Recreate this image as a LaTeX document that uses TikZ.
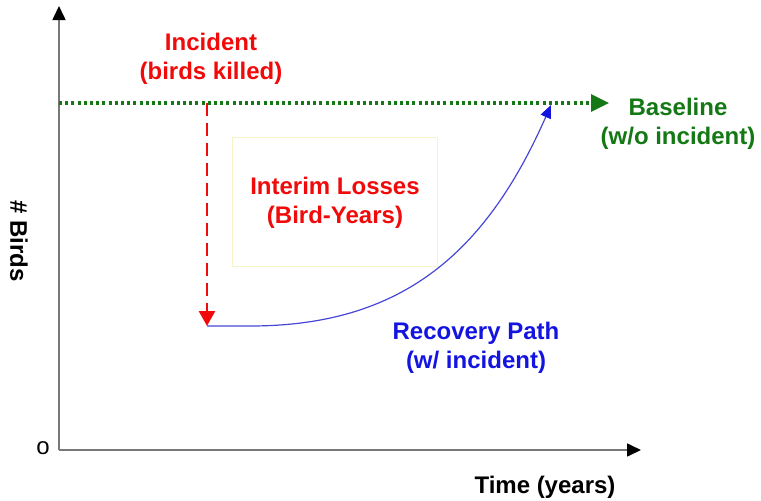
\documentclass[tikz,border=0pt]{standalone}
\usepackage{fontspec}
\setmainfont{Liberation Sans}
\usetikzlibrary{arrows.meta}

\definecolor{axisgray}{RGB}{120,120,120}
\definecolor{basegreen}{RGB}{20,120,20}
\definecolor{lossred}{RGB}{240,10,10}
\definecolor{pathblue}{RGB}{20,20,225}
\definecolor{curveblue}{RGB}{70,70,215}
\definecolor{boxyellow}{RGB}{245,245,200}

\begin{document}
\begin{tikzpicture}[x=1pt,y=-1pt,
  lbl/.style={font=\fontsize{24}{29}\selectfont\bfseries, align=center, inner sep=0pt},
  axisline/.style={draw=axisgray, line width=1.6pt},
  axistip/.style={-{Triangle[length=14pt,width=13pt,color=black]}}
]
\useasboundingbox (0,0) rectangle (761,501);

% axes
\coordinate (origin) at (59,450);
\coordinate (ytop) at (59,6);
\coordinate (xend) at (641,450);
\draw[axisline, axistip] (origin) -- (ytop);
\draw[axisline, axistip] (origin) -- (xend);
\node[lbl, font=\fontsize{24}{29}\selectfont] (zero) at (43,448) {o};
\node[lbl] (ylabel) at (19,241) [rotate=-90] {\# Birds};
\node[lbl] (xlabel) at (545,487) {Time (years)};

% baseline population level
\coordinate (bstart) at (59,103);
\coordinate (bend) at (609,103);
\draw[basegreen, line width=3.2pt, dash pattern=on 3pt off 3.2pt,
      -{Triangle[length=18pt,width=17pt]}] (bstart) -- (bend);
\node[lbl, text=basegreen] (baseline) at (678,124) {Baseline\\(w/o incident)};

% incident drop
\coordinate (drop) at (207,103);
\coordinate (low) at (207,326);
\draw[lossred, line width=2.6pt, dash pattern=on 13pt off 7pt,
      -{Triangle[length=15pt,width=16pt]}] (drop) -- (low);
\node[lbl, text=lossred] (incident) at (211,59) {Incident\\(birds killed)};

% interim losses region
\node[draw=boxyellow, line width=0.8pt, minimum width=205pt, minimum height=129pt,
      inner sep=0pt] (lossbox) at (334.5,201.5) {};
\node[lbl, text=lossred] (losses) at (335,203) {Interim Losses\\(Bird-Years)};

% recovery path
\coordinate (flat) at (250,326);
\coordinate (recovered) at (551,105);
\draw[curveblue, line width=1.2pt, -{Triangle[length=13pt,width=11pt,color=pathblue]}]
  (low) -- (flat) .. controls (400,326) and (485,255) .. (recovered);
\node[lbl, text=pathblue] (recovery) at (476,348) {Recovery Path\\(w/ incident)};
\end{tikzpicture}
\end{document}
